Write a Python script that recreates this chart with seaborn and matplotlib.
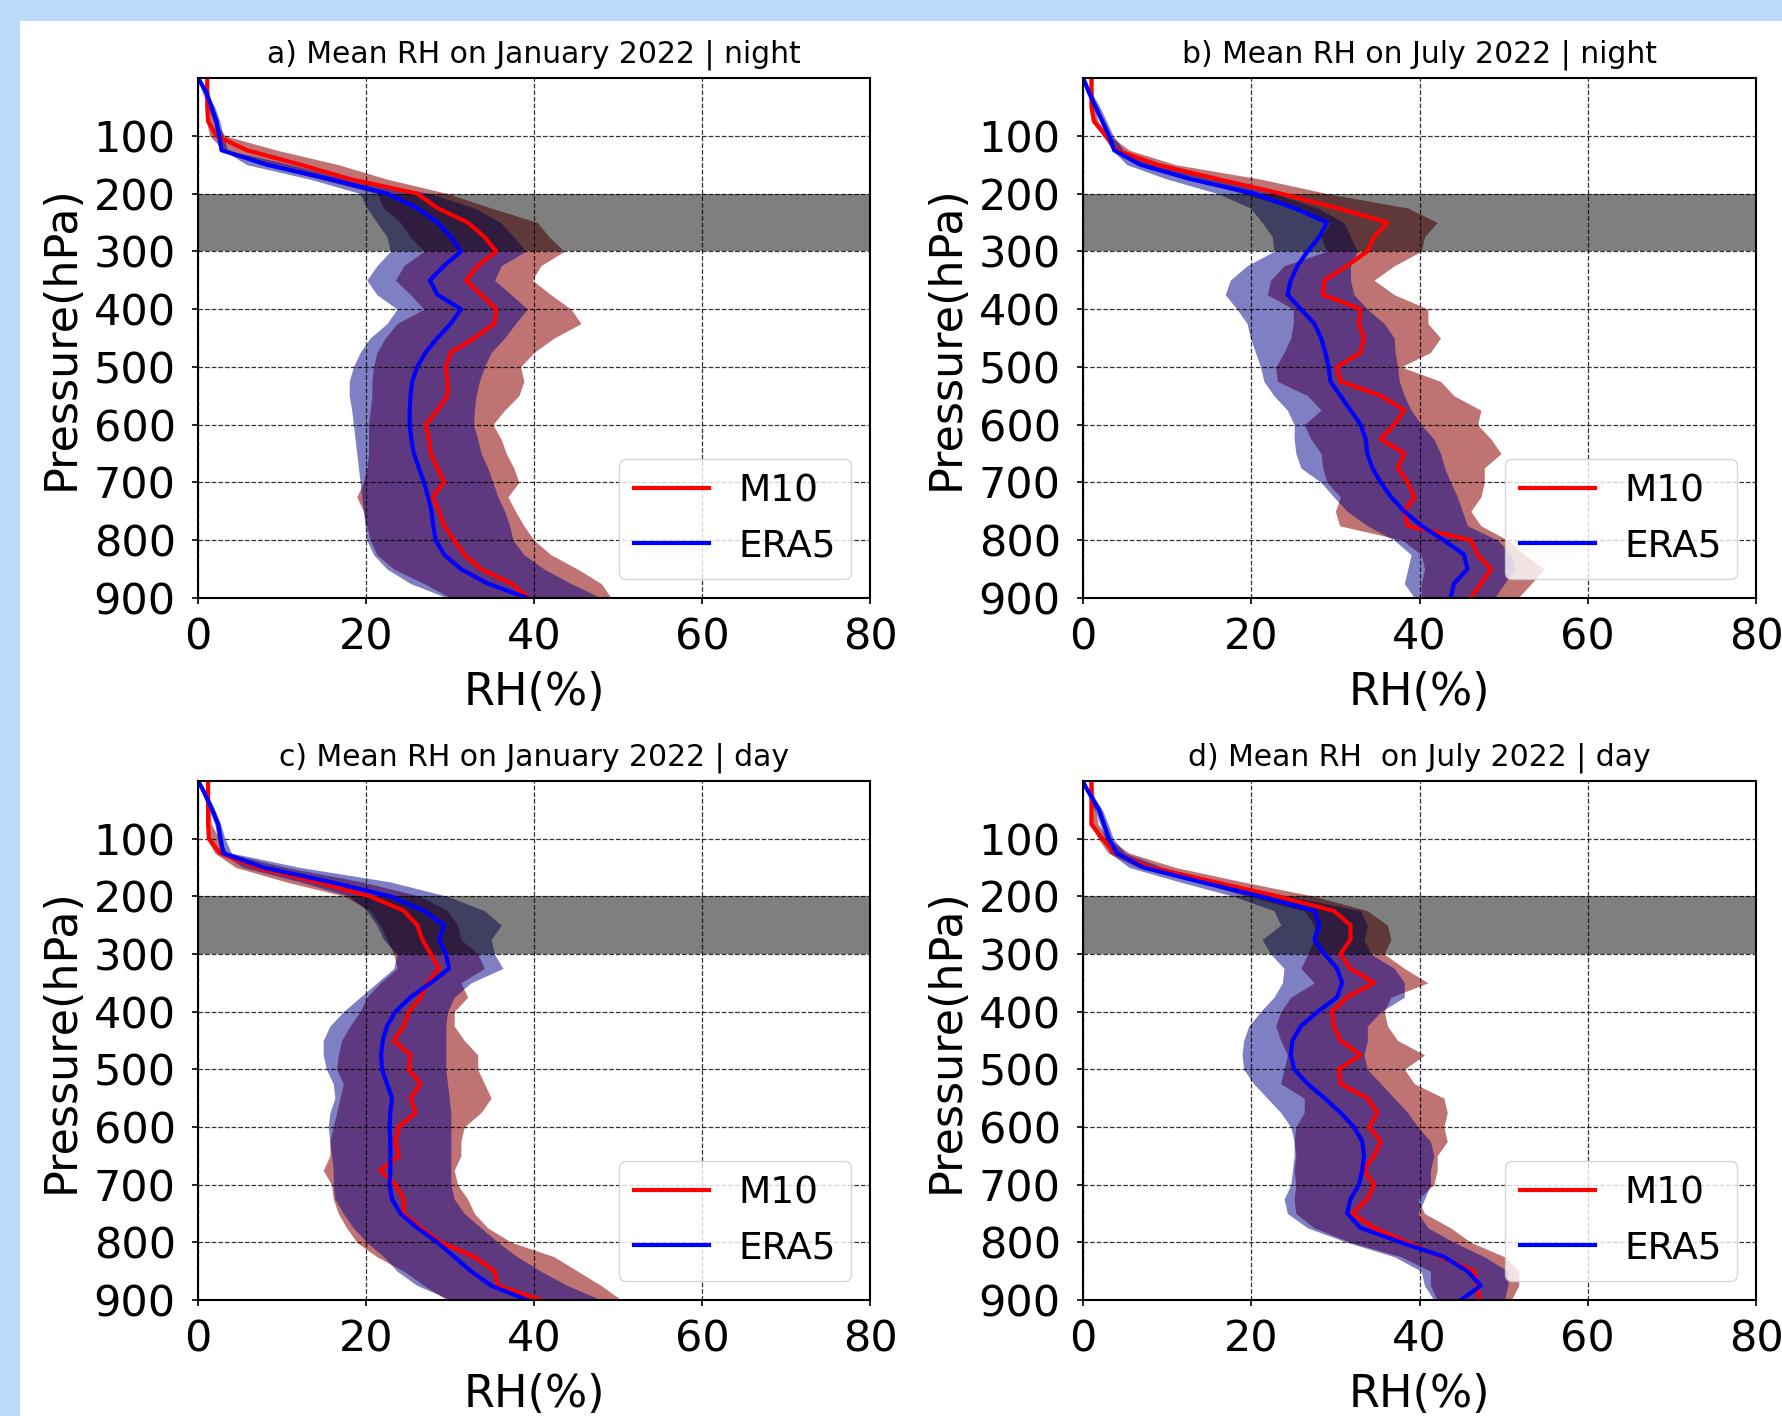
import numpy as np
import pandas as pd
import matplotlib
matplotlib.use("Agg")
import matplotlib.pyplot as plt
from matplotlib.patches import Rectangle
import seaborn as sns

# ---------------- data ----------------
P = [0, 10, 25, 50, 75, 100, 125, 150, 175, 200, 225, 250, 275, 300, 325, 350,
     375, 400, 425, 450, 475, 500, 525, 550, 575, 600, 625, 650, 675, 700, 725,
     750, 775, 800, 825, 850, 875, 900]

# panel a: January 2022 | night
a_era5_mean = [0, 0.4, 1.0, 1.6, 2.2, 2.5, 2.8, 8.2, 15.7, 22.5, 26.1, 28.5, 30.1, 31.3, 29.3, 27.6,
               28.5, 31.3, 30.1, 28.5, 27.1, 26.1, 25.5, 25.3, 25.2, 25.2, 25.4, 25.7, 26.3, 26.9, 27.4,
               27.8, 28.0, 28.3, 29.3, 31.3, 34.5, 39.2]
a_era5_lo = [0, 0.2, 0.5, 1.2, 1.8, 2.3, 3.0, 5.8, 13.3, 19.3, 20.1, 21.3, 22.5, 22.9, 21.3, 20.1,
             21.3, 23.7, 22.5, 20.5, 19.3, 18.5, 18.0, 18.0, 18.3, 18.5, 18.7, 18.9, 19.1, 19.3, 19.5,
             19.7, 19.9, 20.1, 20.9, 22.5, 25.3, 29.7]
a_era5_hi = [0, 0.6, 1.0, 2.0, 2.6, 3.0, 3.5, 11.0, 17.7, 27.7, 32.9, 36.0, 37.6, 39.0, 36.1, 35.3,
             37.3, 39.2, 37.8, 36.5, 34.9, 34.1, 33.5, 33.1, 32.9, 32.8, 33.3, 33.7, 34.5, 35.1, 35.7,
             36.5, 37.1, 37.5, 38.8, 41.2, 44.4, 48.0]
a_m10_mean = [1.1, 1.1, 1.1, 1.1, 1.2, 2.2, 5.8, 12.2, 18.1, 26.1, 28.5, 32.1, 34.1, 35.5, 33.3, 31.9,
              33.7, 35.5, 35.3, 32.9, 30.1, 29.5, 29.7, 29.7, 28.5, 27.1, 27.5, 27.7, 28.5, 29.3, 27.9,
              28.7, 29.3, 30.5, 31.7, 33.7, 37.3, 39.4]
a_m10_lo = [1.0, 1.0, 1.0, 1.0, 1.0, 1.4, 3.0, 7.5, 14.5, 21.3, 22.1, 24.1, 25.3, 26.9, 24.5, 23.5,
            25.3, 26.9, 23.7, 22.3, 21.3, 20.9, 20.7, 20.7, 20.5, 20.3, 20.3, 20.3, 20.1, 19.7, 18.9,
            19.7, 20.1, 20.5, 21.3, 23.3, 26.9, 30.1]
a_m10_hi = [1.2, 1.2, 1.3, 1.5, 2.0, 3.2, 9.4, 16.7, 22.5, 29.7, 34.9, 40.4, 41.8, 43.6, 40.8, 39.8,
            42.0, 44.4, 45.6, 42.4, 40.0, 38.4, 38.8, 38.2, 36.5, 35.1, 36.1, 36.7, 37.6, 38.2, 36.9,
            37.8, 38.8, 40.0, 42.0, 45.2, 48.0, 49.2]

# panel b: July 2022 | night
b_era5_mean = [0, 0.3, 0.7, 1.5, 2.3, 3.1, 3.7, 6.8, 12.8, 20.3, 25.1, 29.0, 28.1, 26.7, 25.5, 24.7,
               24.3, 25.9, 27.5, 28.3, 28.8, 29.2, 29.4, 30.6, 31.8, 33.0, 33.6, 33.8, 34.4, 35.4, 36.6,
               38.2, 40.2, 42.9, 45.3, 45.7, 44.1, 43.7]
b_era5_lo = [0, 0.2, 0.5, 1.2, 2.0, 2.8, 3.5, 5.2, 10.0, 16.0, 19.9, 21.3, 22.5, 22.7, 19.5, 17.5,
             16.9, 18.3, 19.5, 19.9, 20.5, 21.1, 21.5, 22.7, 24.3, 25.1, 25.1, 25.3, 25.9, 28.3, 29.8,
             31.4, 33.8, 37.0, 39.0, 38.6, 38.2, 39.4]
b_era5_hi = [0.1, 0.5, 1.0, 2.0, 2.8, 3.6, 4.8, 8.8, 15.6, 22.7, 27.9, 31.0, 31.8, 32.6, 31.8, 31.8,
             32.2, 33.8, 35.8, 37.0, 37.1, 37.4, 37.6, 38.2, 39.0, 40.2, 41.7, 42.5, 43.0, 43.7, 44.5,
             45.1, 45.7, 49.3, 50.9, 51.3, 50.1, 48.9]
b_m10_mean = [1.0, 1.0, 1.0, 1.0, 1.3, 2.7, 4.0, 8.8, 16.0, 23.5, 30.2, 36.2, 34.6, 33.8, 31.4, 28.7,
              28.5, 33.0, 32.8, 33.4, 33.0, 30.2, 30.6, 35.4, 38.2, 37.0, 35.4, 38.2, 37.4, 38.6, 39.4,
              38.2, 38.6, 46.1, 46.9, 48.5, 47.3, 46.1]
b_m10_lo = [0.9, 0.9, 0.9, 0.9, 1.1, 2.4, 3.5, 7.0, 13.0, 19.0, 24.7, 29.4, 28.3, 29.0, 23.9, 22.3,
            21.9, 25.0, 25.0, 24.7, 23.9, 22.9, 23.1, 26.7, 28.3, 26.3, 27.1, 28.3, 28.5, 29.0, 30.6,
            30.0, 30.5, 38.0, 40.2, 40.6, 40.2, 40.2]
b_m10_hi = [1.2, 1.2, 1.2, 1.4, 1.8, 3.2, 5.5, 11.0, 21.1, 29.0, 38.6, 42.1, 40.6, 40.2, 37.0, 34.6,
            37.0, 41.0, 41.0, 42.5, 41.3, 37.8, 42.5, 44.1, 47.3, 46.9, 48.5, 49.7, 47.7, 47.7, 47.3,
            46.1, 47.3, 50.5, 52.5, 54.8, 53.3, 51.7]

# panel c: January 2022 | day
c_era5_mean = [0, 0.4, 0.9, 1.7, 2.4, 2.7, 3.0, 7.8, 15.7, 22.9, 26.9, 29.3, 28.7, 29.5, 29.9, 27.7,
               25.3, 23.5, 22.5, 22.0, 21.8, 21.9, 22.5, 23.1, 22.9, 22.8, 22.9, 22.9, 22.9, 22.8, 23.1,
               24.1, 26.1, 28.5, 30.5, 32.5, 34.9, 39.2]
c_era5_lo = [0, 0.2, 0.6, 1.3, 2.0, 2.3, 2.7, 5.4, 12.2, 18.1, 20.1, 21.3, 22.1, 23.7, 23.3, 21.3,
             19.3, 17.3, 15.7, 14.9, 14.9, 15.3, 16.1, 16.3, 15.7, 15.5, 15.7, 15.9, 16.1, 16.1, 16.3,
             17.3, 18.5, 20.1, 22.1, 23.7, 26.1, 30.1]
c_era5_hi = [0.1, 0.6, 1.2, 2.0, 2.7, 3.2, 4.0, 12.2, 22.9, 29.7, 34.1, 36.1, 34.9, 35.3, 36.3, 32.5,
             30.5, 29.7, 29.5, 29.5, 29.5, 29.5, 29.7, 29.9, 30.1, 30.1, 30.1, 30.1, 30.1, 30.1, 30.5,
             31.7, 33.7, 35.7, 38.0, 40.8, 44.0, 48.0]
c_m10_mean = [1.2, 1.2, 1.2, 1.2, 1.2, 1.3, 2.6, 7.0, 14.1, 20.5, 24.5, 26.1, 26.7, 27.7, 28.7, 27.3,
              26.5, 25.1, 24.5, 23.3, 25.3, 25.1, 26.5, 25.3, 25.9, 23.9, 23.5, 23.9, 21.7, 23.5, 24.5,
              24.5, 26.5, 28.9, 32.9, 35.3, 35.7, 40.8]
c_m10_lo = [1.0, 1.0, 1.0, 1.0, 1.0, 1.0, 2.0, 4.5, 10.5, 17.5, 20.5, 21.7, 22.5, 23.3, 23.7, 21.7,
            20.1, 19.3, 18.1, 17.1, 16.7, 16.5, 17.3, 16.9, 16.5, 16.1, 15.7, 15.7, 14.9, 15.9, 16.1,
            16.7, 17.7, 18.9, 21.3, 24.5, 26.9, 29.7]
c_m10_hi = [1.3, 1.3, 1.3, 1.4, 1.6, 2.5, 3.5, 10.5, 19.5, 26.5, 29.7, 30.9, 31.3, 33.3, 34.1, 31.3,
            32.1, 30.5, 30.5, 31.7, 33.3, 33.3, 34.1, 34.9, 33.7, 31.7, 31.3, 31.3, 30.5, 30.9, 32.1,
            32.9, 34.5, 37.3, 42.4, 45.2, 48.0, 50.4]

# panel d: July 2022 | day
d_era5_mean = [0, 0.3, 0.9, 1.9, 2.5, 3.1, 4.0, 7.2, 14.0, 21.1, 27.5, 28.1, 27.5, 28.7, 30.2, 30.8,
               30.2, 27.9, 25.9, 24.9, 24.7, 25.1, 26.7, 28.7, 30.6, 32.2, 33.2, 33.4, 33.2, 32.8, 31.8,
               31.4, 33.0, 37.8, 42.9, 45.7, 47.3, 44.9]
d_era5_lo = [0, 0.2, 0.6, 1.4, 2.0, 2.6, 3.2, 5.5, 11.5, 17.9, 22.7, 23.5, 21.3, 22.3, 23.9, 23.7,
             22.7, 21.1, 19.7, 19.1, 18.9, 19.1, 20.3, 21.9, 23.5, 24.7, 25.1, 25.1, 24.9, 24.7, 23.9,
             24.3, 26.7, 31.4, 37.0, 40.2, 40.6, 41.7]
d_era5_hi = [0.1, 0.5, 1.2, 2.3, 3.0, 3.6, 5.0, 9.5, 16.5, 24.5, 33.0, 33.8, 33.4, 34.2, 37.0, 38.2,
             38.2, 35.4, 33.8, 33.8, 33.4, 33.8, 35.4, 37.0, 38.6, 39.8, 41.3, 41.7, 41.3, 41.3, 40.6,
             39.8, 41.0, 44.1, 47.7, 50.5, 50.5, 50.1]
d_m10_mean = [1.0, 1.0, 1.0, 1.0, 1.0, 2.3, 3.8, 8.0, 15.6, 23.1, 29.8, 31.8, 31.8, 30.6, 31.8, 34.6,
              31.4, 29.6, 29.8, 30.6, 33.0, 30.4, 30.6, 33.8, 35.0, 34.0, 35.4, 34.6, 33.4, 34.6, 33.8,
              32.0, 34.6, 38.6, 42.5, 46.5, 46.9, 47.1]
d_m10_lo = [0.9, 0.9, 0.9, 0.9, 0.9, 1.8, 3.0, 6.5, 13.5, 19.5, 26.3, 27.5, 27.5, 26.7, 25.9, 27.5,
            24.7, 23.5, 22.9, 23.5, 24.3, 23.9, 23.5, 26.3, 26.3, 25.3, 25.1, 25.3, 25.1, 25.3, 25.1,
            25.3, 27.5, 31.8, 37.8, 41.3, 41.3, 42.1]
d_m10_hi = [1.2, 1.2, 1.3, 1.5, 1.8, 3.0, 5.5, 11.0, 19.0, 27.5, 33.8, 36.2, 36.6, 35.8, 38.2, 41.0,
            36.6, 35.8, 36.2, 37.4, 40.6, 38.2, 39.4, 42.9, 43.3, 42.9, 43.3, 42.1, 42.1, 41.7, 39.8,
            40.6, 43.7, 46.1, 50.1, 51.8, 51.8, 50.9]

titles = ["a) Mean RH on January 2022 | night",
          "b) Mean RH on July 2022 | night",
          "c) Mean RH on January 2022 | day",
          "d) Mean RH  on July 2022 | day"]
x_ticks = [0, 20, 40, 60, 80]
y_ticks = [100, 200, 300, 400, 500, 600, 700, 800, 900]
band = (200, 300)
series_names = ["M10", "ERA5"]

panels = [
    (a_m10_mean, a_m10_lo, a_m10_hi, a_era5_mean, a_era5_lo, a_era5_hi),
    (b_m10_mean, b_m10_lo, b_m10_hi, b_era5_mean, b_era5_lo, b_era5_hi),
    (c_m10_mean, c_m10_lo, c_m10_hi, c_era5_mean, c_era5_lo, c_era5_hi),
    (d_m10_mean, d_m10_lo, d_m10_hi, d_era5_mean, d_era5_lo, d_era5_hi),
]

# ---------------- figure ----------------
W, H, DPI = 1782, 1416, 100
fig = plt.figure(figsize=(W / DPI, H / DPI), dpi=DPI)
fig.patch.set_facecolor("#BBD9F9")
fig.add_artist(Rectangle((20 / W, 0), 1, 1 - 21 / H, transform=fig.transFigure,
                         facecolor="white", edgecolor="none", zorder=-5))

plt.rcParams["font.family"] = ["DejaVu Sans"]

# axes boxes in pixels: (left, top, right, bottom)
boxes = [(198, 78, 870, 598), (1083, 78, 1756, 598),
         (198, 781, 870, 1300), (1083, 781, 1756, 1300)]

TICK_FS = 31
LAB_FS = 32
TITLE_FS = 21.5
LEG_FS = 27

for (l, t, r, b), ttl, (mm, mlo, mhi, em, elo, ehi) in zip(boxes, titles, panels):
    ax = fig.add_axes([l / W, 1 - b / H, (r - l) / W, (b - t) / H])
    ax.fill_betweenx(P, mlo, mhi, color="darkred", alpha=0.55, lw=0)
    ax.fill_betweenx(P, elo, ehi, color="darkblue", alpha=0.5, lw=0)
    ax.axhspan(band[0], band[1], color="k", alpha=0.5, lw=0)
    df_m = pd.DataFrame({"RH": mm, "P": P})
    df_e = pd.DataFrame({"RH": em, "P": P})
    sns.lineplot(data=df_m, x="RH", y="P", orient="y", color="red", lw=3,
                 label=series_names[0], ax=ax, legend=False)
    sns.lineplot(data=df_e, x="RH", y="P", orient="y", color="blue", lw=3,
                 label=series_names[1], ax=ax, legend=False)
    ax.set_xlim(0, 80)
    ax.set_ylim(900, 0)
    ax.set_xticks(x_ticks)
    ax.set_yticks(y_ticks)
    ax.tick_params(labelsize=TICK_FS, width=1.2, length=4)
    ax.tick_params(axis="x", pad=9)
    ax.tick_params(axis="y", pad=12)
    ax.grid(True, ls="--", color="k", lw=0.9, alpha=0.8)
    for s in ax.spines.values():
        s.set_linewidth(1.5)
    ax.set_xlabel("RH(%)", fontsize=LAB_FS, labelpad=9)
    ax.set_ylabel("Pressure(hPa)", fontsize=LAB_FS, labelpad=8)
    ax.set_title(ttl, fontsize=TITLE_FS, pad=11)
    ax.legend(loc="lower right", fontsize=LEG_FS)

fig.savefig("out.png", dpi=DPI, facecolor=fig.get_facecolor())
